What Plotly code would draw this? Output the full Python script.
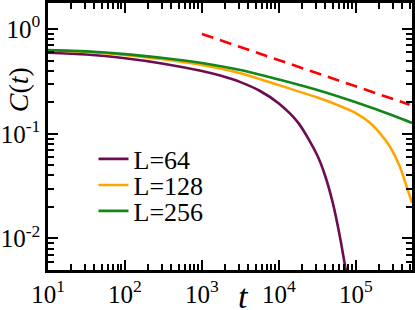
import numpy as np
import plotly.graph_objects as go

# log10(t) and C(t) values
logt_64 = [1.0, 1.5, 2.0, 2.5, 3.0, 3.25, 3.5, 3.75, 4.0, 4.25, 4.5, 4.6, 4.7, 4.8, 4.87, 4.9]
c_64 = [0.595, 0.572, 0.527, 0.468, 0.398, 0.358, 0.312, 0.258, 0.195, 0.128, 0.062, 0.040, 0.022, 0.0098, 0.005, 0.004]

logt_128 = [1.0, 1.5, 2.0, 2.5, 3.0, 3.5, 4.0, 4.5, 4.75, 5.0, 5.18, 5.31, 5.44, 5.57, 5.675, 5.73]
c_128 = [0.625, 0.607, 0.568, 0.515, 0.455, 0.380, 0.292, 0.222, 0.190, 0.158, 0.128, 0.102, 0.076, 0.049, 0.029, 0.022]

logt_256 = [1.0, 1.5, 2.0, 2.5, 3.0, 3.5, 4.0, 4.5, 5.0, 5.5, 5.73]
c_256 = [0.630, 0.613, 0.578, 0.530, 0.476, 0.408, 0.330, 0.262, 0.200, 0.148, 0.127]

guide_t = [1e3, 5e5]
guide_c = [0.9, 0.19]

series_names = ["L=64", "L=128", "L=256"]
series_colors = ["#6b0d50", "#ffa500", "#13861a"]
legend_ids = ["legend", "legend2", "legend3"]
legend_y = [0.416, 0.318, 0.221]

x_tickvals = [10, 100, 1000, 10000, 100000]
x_ticktext = ["10<sup>1</sup>", "10<sup>2</sup>", "10<sup>3</sup>", "10<sup>4</sup>", "10<sup>5</sup>"]
y_tickvals = [0.01, 0.1, 1]
y_ticktext = ["10<sup>-2</sup>", "10<sup>-1</sup>", "10<sup>0</sup>"]

SERIF = "Liberation Serif, Times New Roman, serif"

fig = go.Figure()
for lt, c, name, col, lg in zip([logt_64, logt_128, logt_256], [c_64, c_128, c_256],
                                series_names, series_colors, legend_ids):
    fig.add_trace(go.Scatter(
        x=[10 ** v for v in lt], y=c, mode="lines", name=name, legend=lg,
        line=dict(color=col, width=2.6, shape="spline", smoothing=0.8),
    ))

fig.add_trace(go.Scatter(
    x=guide_t, y=guide_c, mode="lines", showlegend=False,
    line=dict(color="#ff0000", width=2.6, dash="12px,7px"),
))

axis_common = dict(
    type="log", showline=True, linecolor="black", linewidth=2.5, mirror="allticks",
    ticks="inside", ticklen=10, tickwidth=1.8, tickcolor="black",
    showgrid=False, zeroline=False, automargin=False,
    minor=dict(ticks="inside", dtick="D1", ticklen=6, tickwidth=1.6, tickcolor="black", showgrid=False),
    tickfont=dict(family=SERIF, size=25, color="black"),
)

fig.update_xaxes(**axis_common, range=[1, 5.73], tickvals=x_tickvals, ticktext=x_ticktext,
                 ticklabelstandoff=0)
fig.update_yaxes(**axis_common, range=[np.log10(0.005), 0.25], tickvals=y_tickvals, ticktext=y_ticktext,
                 ticklabelstandoff=0)

legend_common = dict(x=0.125, xanchor="left", yanchor="middle",
                     bgcolor="rgba(0,0,0,0)", borderwidth=0,
                     font=dict(family=SERIF, size=26, color="black"),
                     itemwidth=30)

fig.update_layout(
    width=415, height=310,
    margin=dict(l=48, r=3, t=3, b=40, autoexpand=False),
    paper_bgcolor="white", plot_bgcolor="white",
    showlegend=True,
    legend=dict(**legend_common, y=legend_y[0]),
    legend2=dict(**legend_common, y=legend_y[1]),
    legend3=dict(**legend_common, y=legend_y[2]),
    annotations=[
        dict(text="<i>C</i>(<i>t</i>)", xref="paper", yref="paper", x=-0.082, y=0.674,
             xanchor="center", yanchor="middle", textangle=-90, showarrow=False,
             font=dict(family=SERIF, size=28, color="black")),
        dict(text="<i>t</i>", xref="paper", yref="paper", x=0.536, y=-0.098,
             xanchor="center", yanchor="middle", showarrow=False,
             font=dict(family=SERIF, size=34, color="black")),
    ],
)

fig.write_html("out.html", config={"displayModeBar": False},
               post_script="document.body.style.margin='0px';document.body.style.overflow='hidden';")
